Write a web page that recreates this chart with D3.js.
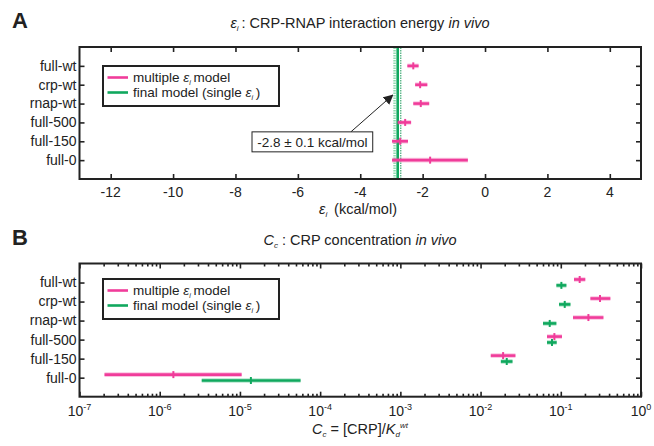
<!DOCTYPE html>
<html>
<head>
<meta charset="utf-8">
<title></title>
<script src="https://cdn.jsdelivr.net/npm/d3@7"></script>
<style>
  body { margin: 0; background: #fff; }
  text { font-family: "Liberation Sans", Arial, sans-serif; fill: #222; }
</style>
</head>
<body>
<div id="chart"></div>
<script>
// constructs, bottom to top
var categories = ["full-0", "full-150", "full-500", "rnap-wt", "crp-wt", "full-wt"];

// panel A: epsilon_i (kcal/mol), multiple eps model
var epsCenter = [-1.76, -2.72, -2.56, -2.06, -2.08, -2.30];
var epsLow    = [-2.98, -2.98, -2.80, -2.30, -2.24, -2.49];
var epsHigh   = [-0.55, -2.47, -2.37, -1.79, -1.85, -2.13];
var epsFinal = -2.8, epsFinalErr = 0.1;
var epsTicks = [-12, -10, -8, -6, -4, -2, 0, 2, 4];

// panel B: C_c, multiple eps model and final model
var ccMultiCenter = [1.48e-6, 0.0191, 0.0832, 0.221, 0.308, 0.172];
var ccMultiLow    = [2.05e-7, 0.0134, 0.0673, 0.142, 0.234, 0.146];
var ccMultiHigh   = [1.05e-5, 0.0272, 0.1035, 0.340, 0.415, 0.202];
var ccFinalCenter = [1.37e-5, 0.0212, 0.0777, 0.0728, 0.112, 0.1017];
var ccFinalLow    = [3.34e-6, 0.0179, 0.0673, 0.0600, 0.095, 0.0881];
var ccFinalHigh   = [5.7e-5, 0.0250, 0.0889, 0.0881, 0.132, 0.1175];
var ccTickExp = [-7, -6, -5, -4, -3, -2, -1, 0];

var pink = "#f03c9a", green = "#10a85e";

var svg = d3.select("#chart").append("svg")
  .attr("width", 654).attr("height", 446);

var left = 79.5, right = 641;

// ---------- panel A ----------
var xA = d3.scaleLinear().domain([-13, 5]).range([left, right]);
var yA = d3.scaleLinear().domain([0, 7]).range([179, 47]);

function frame(y) {
  svg.append("rect")
    .attr("x", left).attr("y", y.range()[1])
    .attr("width", right - left).attr("height", y.range()[0] - y.range()[1])
    .attr("fill", "none").attr("stroke", "#222").attr("stroke-width", 2);
}

function yAxes(y) {
  var cats = d3.range(1, 7);
  var gl = svg.append("g").attr("transform", "translate(" + left + ",0)")
    .call(d3.axisRight(y).tickValues(cats).tickSize(5).tickFormat(""));
  var gr = svg.append("g").attr("transform", "translate(" + right + ",0)")
    .call(d3.axisLeft(y).tickValues(cats).tickSize(5).tickFormat(""));
  [gl, gr].forEach(function(g) {
    g.select(".domain").remove();
    g.selectAll(".tick line").attr("stroke", "#222").attr("stroke-width", 1.6);
  });
  svg.append("g").selectAll("text").data(cats).enter().append("text")
    .attr("x", left - 3).attr("y", function(d) { return y(d); })
    .attr("dy", "0.35em").attr("text-anchor", "end")
    .style("font-size", "14px")
    .text(function(d) { return categories[d - 1]; });
}

// inward ticks on bottom and top edges, MATLAB style
function xTickLines(x, y, vals, len) {
  var gb = svg.append("g").attr("transform", "translate(0," + y.range()[0] + ")")
    .call(d3.axisTop(x).tickValues(vals).tickSize(len).tickFormat(""));
  var gt = svg.append("g").attr("transform", "translate(0," + y.range()[1] + ")")
    .call(d3.axisBottom(x).tickValues(vals).tickSize(len).tickFormat(""));
  [gb, gt].forEach(function(g) {
    g.select(".domain").remove();
    g.selectAll(".tick line").attr("stroke", "#222").attr("stroke-width", 1.6);
  });
}

xTickLines(xA, yA, epsTicks, 5);
yAxes(yA);

svg.append("g").selectAll("text").data(epsTicks).enter().append("text")
  .attr("x", function(d) { return xA(d); }).attr("y", 197)
  .attr("text-anchor", "middle").style("font-size", "14px")
  .text(function(d) { return d; });

// final model line with +/- band
svg.append("line")
  .attr("x1", xA(epsFinal - epsFinalErr)).attr("x2", xA(epsFinal - epsFinalErr))
  .attr("y1", yA(0)).attr("y2", yA(7))
  .attr("stroke", "#8fdcb0").attr("stroke-width", 2.5).attr("stroke-dasharray", "1.5,1");
svg.append("line")
  .attr("x1", xA(epsFinal + epsFinalErr)).attr("x2", xA(epsFinal + epsFinalErr))
  .attr("y1", yA(0)).attr("y2", yA(7))
  .attr("stroke", "#1a9a5a").attr("stroke-width", 1).attr("stroke-dasharray", "1.5,1");
svg.append("line")
  .attr("x1", xA(epsFinal)).attr("x2", xA(epsFinal))
  .attr("y1", yA(0)).attr("y2", yA(7))
  .attr("stroke", green).attr("stroke-width", 2.6);

function errorBars(x, y, lo, hi, mid, color, shift) {
  var g = svg.append("g");
  var idx = d3.range(lo.length);
  g.selectAll(".halo").data(idx).enter().append("line")
    .attr("x1", function(i) { return x(lo[i]); })
    .attr("x2", function(i) { return x(hi[i]); })
    .attr("y1", function(i) { return y(i + 1 + shift); })
    .attr("y2", function(i) { return y(i + 1 + shift); })
    .attr("stroke", color).attr("stroke-opacity", 0.3).attr("stroke-width", 4.6);
  g.selectAll(".bar").data(idx).enter().append("line")
    .attr("x1", function(i) { return x(lo[i]); })
    .attr("x2", function(i) { return x(hi[i]); })
    .attr("y1", function(i) { return y(i + 1 + shift); })
    .attr("y2", function(i) { return y(i + 1 + shift); })
    .attr("stroke", color).attr("stroke-width", 2.6);
  g.selectAll(".mid").data(idx).enter().append("line")
    .attr("x1", function(i) { return x(mid[i]); })
    .attr("x2", function(i) { return x(mid[i]); })
    .attr("y1", function(i) { return y(i + 1 + shift) - 3.5; })
    .attr("y2", function(i) { return y(i + 1 + shift) + 3.5; })
    .attr("stroke", color).attr("stroke-width", 2);
}

errorBars(xA, yA, epsLow, epsHigh, epsCenter, pink, 0);

// annotation box and arrow
svg.append("defs").append("marker")
  .attr("id", "head").attr("viewBox", "0 0 10 10")
  .attr("refX", 9).attr("refY", 5)
  .attr("markerWidth", 10).attr("markerHeight", 10)
  .attr("markerUnits", "userSpaceOnUse")
  .attr("orient", "auto")
  .append("path").attr("d", "M0,0L10,5L0,10z").attr("fill", "#222");
svg.append("line")
  .attr("x1", xA(-4.3)).attr("y1", yA(2.5))
  .attr("x2", xA(-2.96)).attr("y2", yA(4.45))
  .attr("stroke", "#222").attr("stroke-width", 1)
  .attr("marker-end", "url(#head)");
svg.append("rect")
  .attr("x", xA(-7.47)).attr("y", yA(2.5))
  .attr("width", xA(-3.6) - xA(-7.47)).attr("height", yA(1.44) - yA(2.5))
  .attr("fill", "#fff").attr("stroke", "#222").attr("stroke-width", 1);
svg.append("text")
  .attr("x", (xA(-7.47) + xA(-3.6)) / 2).attr("y", (yA(2.5) + yA(1.44)) / 2)
  .attr("dy", "0.35em").attr("text-anchor", "middle").style("font-size", "13.5px")
  .text("-2.8 \u00b1 0.1 kcal/mol");

// ---------- panel B ----------
var xB = d3.scaleLog().domain([1e-7, 1]).range([left, right]);
var yB = d3.scaleLinear().domain([0, 7]).range([396.7, 263.5]);

var majors = ccTickExp.map(function(e) { return Math.pow(10, e); });
var minors = [];
ccTickExp.slice(0, -1).forEach(function(e) {
  d3.range(2, 10).forEach(function(m) { minors.push(m * Math.pow(10, e)); });
});
xTickLines(xB, yB, minors, 3);
xTickLines(xB, yB, majors, 5);
yAxes(yB);

var lab = svg.append("g").selectAll("text").data(ccTickExp).enter().append("text")
  .attr("x", function(d) { return xB(Math.pow(10, d)); }).attr("y", 416)
  .attr("text-anchor", "middle").style("font-size", "14px");
lab.append("tspan").text("10");
lab.append("tspan").attr("dy", -6).style("font-size", "9px")
  .text(function(d) { return d === 0 ? "0" : "-" + Math.abs(d); });

errorBars(xB, yB, ccMultiLow, ccMultiHigh, ccMultiCenter, pink, 0.16);
errorBars(xB, yB, ccFinalLow, ccFinalHigh, ccFinalCenter, green, -0.15);

// ---------- frames, legends, titles ----------
frame(yA);
frame(yB);

function epsilon(t, size) {
  t.append("tspan").style("font-style", "italic").text("\u03b5");
  t.append("tspan").attr("dy", 3).style("font-style", "italic")
    .style("font-size", size).text("i");
  t.append("tspan").attr("dy", -3).text("\u2009");
}

function legend(y0) {
  var g = svg.append("g");
  g.append("rect").attr("x", 103).attr("y", y0)
    .attr("width", 176).attr("height", 40)
    .attr("fill", "#fff").attr("stroke", "#222").attr("stroke-width", 2);
  [[pink, 11.5], [green, 26.5]].forEach(function(r) {
    g.append("line").attr("x1", 107.5).attr("x2", 128)
      .attr("y1", y0 + r[1]).attr("y2", y0 + r[1])
      .attr("stroke", r[0]).attr("stroke-width", 2.6);
  });
  var t1 = g.append("text").attr("x", 133).attr("y", y0 + 11.5).attr("dy", "0.35em")
    .style("font-size", "13.5px");
  t1.append("tspan").text("multiple ");
  epsilon(t1, "7px");
  t1.append("tspan").text("model");
  var t2 = g.append("text").attr("x", 133).attr("y", y0 + 26.5).attr("dy", "0.35em")
    .style("font-size", "13.5px");
  t2.append("tspan").text("final model (single ");
  epsilon(t2, "7px");
  t2.append("tspan").text(")");
}
legend(66);
legend(279);

svg.append("text").attr("x", 12).attr("y", 28)
  .style("font-size", "22px").style("font-weight", "bold").text("A");
svg.append("text").attr("x", 12).attr("y", 245)
  .style("font-size", "22px").style("font-weight", "bold").text("B");

var tA = svg.append("text").attr("x", 360).attr("y", 28)
  .attr("text-anchor", "middle").style("font-size", "14.5px");
epsilon(tA, "8px");
tA.append("tspan").text(": CRP-RNAP interaction energy ");
tA.append("tspan").style("font-style", "italic").text("in vivo");

var xlA = svg.append("text").attr("x", 358).attr("y", 214)
  .attr("text-anchor", "middle").style("font-size", "14.5px");
epsilon(xlA, "8px");
xlA.append("tspan").text(" (kcal/mol)");

var tB = svg.append("text").attr("x", 360).attr("y", 245)
  .attr("text-anchor", "middle").style("font-size", "14.5px");
tB.append("tspan").style("font-style", "italic").text("C");
tB.append("tspan").attr("dy", 3).style("font-style", "italic").style("font-size", "8px").text("c");
tB.append("tspan").attr("dy", -3).text(" : CRP concentration ");
tB.append("tspan").style("font-style", "italic").text("in vivo");

var xlB = svg.append("text").attr("x", 360).attr("y", 434)
  .attr("text-anchor", "middle").style("font-size", "14.5px");
xlB.append("tspan").style("font-style", "italic").text("C");
xlB.append("tspan").attr("dy", 3).style("font-style", "italic").style("font-size", "8px").text("c");
xlB.append("tspan").attr("dy", -3).text(" = [CRP]/");
xlB.append("tspan").style("font-style", "italic").text("K");
xlB.append("tspan").attr("dy", 3).style("font-style", "italic").style("font-size", "8px").text("d");
xlB.append("tspan").attr("dy", -9).style("font-style", "italic").style("font-size", "8px").text("wt");
</script>
</body>
</html>
